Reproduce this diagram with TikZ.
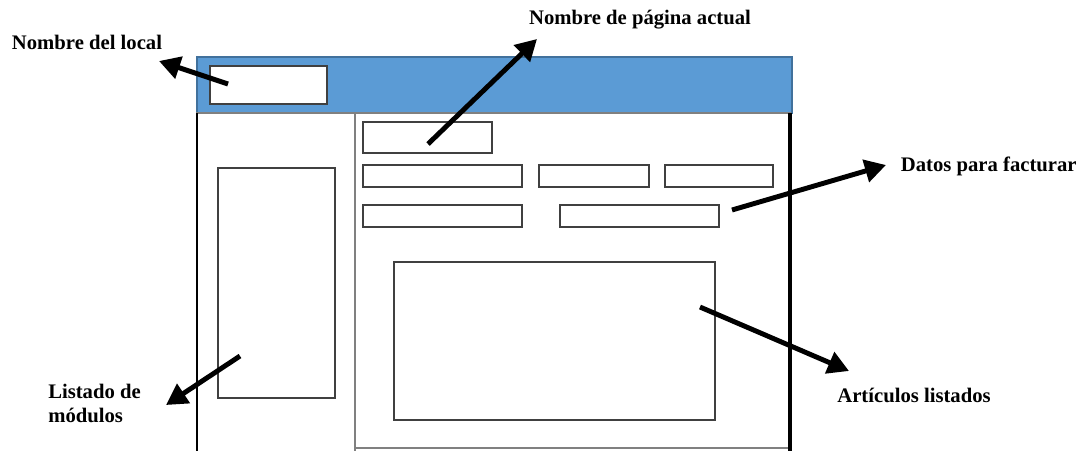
\documentclass[tikz,border=0pt]{standalone}
\usepackage{fontspec}
\setmainfont{Liberation Serif}
\usetikzlibrary{arrows.meta, positioning}

\definecolor{barblue}{HTML}{5B9BD5}
\definecolor{barline}{HTML}{41719C}
\definecolor{fieldline}{HTML}{404040}
\definecolor{panelline}{HTML}{808080}

\begin{document}
\begin{tikzpicture}[x=0.025cm, y=-0.025cm,
            font=\fontsize{14.7}{17}\selectfont\bfseries,
            frame/.style 2 args={anchor=north west, inner sep=0pt, outer sep=0pt,
                minimum width=#1*0.025cm, minimum height=#2*0.025cm},
            field/.style={draw=fieldline, line width=1pt, fill=white},
            pointer/.style={-{Triangle[length=15pt, width=16pt]}, line width=3.5pt, black},
            edge/.style={line width=2.2pt, black}]

            \useasboundingbox (0,0) rectangle (1078,450);

            % Header bar
            \node[frame={595}{56}, fill=barblue, draw=barline, line width=1pt] (hdr) at (197,57) {};
            \node[frame={117}{38}, field] (title) at (210,66) {};

            % Side menu and main panel
            \node[frame={158}{345}, draw=panelline, line width=1pt] (side) at (197,113) {};
            \node[frame={435}{335}, draw=panelline, line width=1pt] (panel) at (355,113) {};
            \draw[edge, line width=1.6pt] (side.north west) -- (side.south west);
            \draw[edge] (panel.north east) -- ++(0,345);

            \node[frame={117}{230}, field] (modlist) at (218,168) {};

            % Fields of the panel
            \node[frame={129}{31}, field] (pagename) at (363,122) {};
            \node[frame={159}{22}, field] (f1) at (363,165) {};
            \node[frame={110}{22}, field] (f2) at (539,165) {};
            \node[frame={108}{22}, field] (f3) at (665,165) {};
            \node[frame={159}{22}, field] (f4) at (363,205) {};
            \node[frame={159}{22}, field] (f5) at (560,205) {};
            \node[frame={321}{158}, field] (items) at (394,262) {};

            % Labels
            \node (lbllocal) at (87,42) {Nombre del local};
            \node (lblpage) at (640,20) {Nombre de página actual};
            \node[anchor=west] (lblfact) at (896,166) {Datos para facturar};
            \node[anchor=west, align=left, inner sep=0pt] (lblmod) at (48,403) {Listado de\\módulos};
            \node (lblart) at (914,395) {Artículos listados};

            % Arrow ends
            \coordinate (plocal) at (228,84);
            \coordinate (tlocal) at (159,61);
            \coordinate (ppage) at (428,144);
            \coordinate (tpage) at (537,39);
            \coordinate (pfact) at (732,210);
            \coordinate (tfact) at (886,165);
            \coordinate (pmod) at (240,356);
            \coordinate (tmod) at (166,405);
            \coordinate (part) at (700,307);
            \coordinate (tart) at (849,371);

            \draw[pointer] (plocal) -- (tlocal);
            \draw[pointer] (ppage) -- (tpage);
            \draw[pointer] (pfact) -- (tfact);
            \draw[pointer] (pmod) -- (tmod);
            \draw[pointer] (part) -- (tart);
        \end{tikzpicture}
\end{document}
